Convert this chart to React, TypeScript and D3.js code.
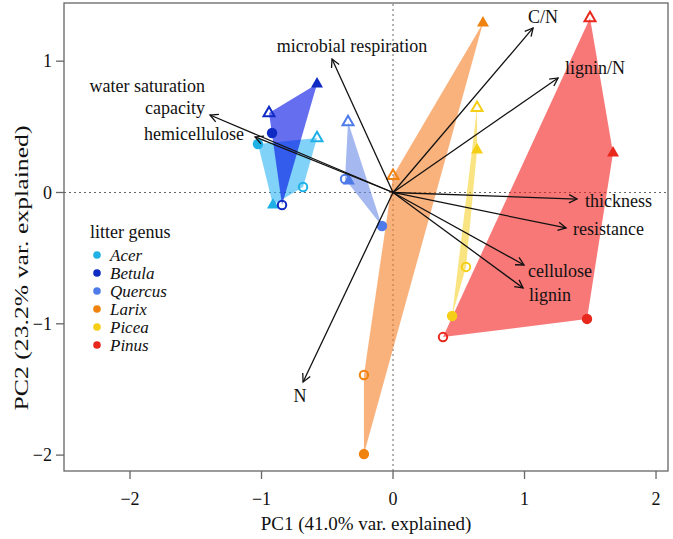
import React from 'react';
import * as d3 from 'd3';

// PCA scores, one entry per sample in the order:
// filled circle, open circle, filled triangle, open triangle
const genera = ['Acer', 'Betula', 'Quercus', 'Larix', 'Picea', 'Pinus'];
const acerPC1 = [-1.027, -0.684, -0.913, -0.578];
const acerPC2 = [0.369, 0.042, -0.095, 0.415];
const betulaPC1 = [-0.92, -0.844, -0.578, -0.943];
const betulaPC2 = [0.453, -0.095, 0.826, 0.605];
const quercusPC1 = [-0.084, -0.365, -0.335, -0.342];
const quercusPC2 = [-0.255, 0.103, 0.088, 0.537];
const larixPC1 = [-0.221, -0.221, 0.684, 0.0];
const larixPC2 = [-1.992, -1.39, 1.291, 0.126];
const piceaPC1 = [0.449, 0.555, 0.639, 0.639];
const piceaPC2 = [-0.941, -0.567, 0.324, 0.644];
const pinusPC1 = [1.475, 0.38, 1.673, 1.498];
const pinusPC2 = [-0.963, -1.101, 0.301, 1.329];
const markers = ['filledCircle', 'openCircle', 'filledTriangle', 'openTriangle'];

// variable loadings (arrow tips)
const variables = [
  'microbial respiration',
  'water saturation\ncapacity',
  'hemicellulose',
  'N',
  'C/N',
  'lignin/N',
  'thickness',
  'resistance',
  'cellulose',
  'lignin',
];
const loadPC1 = [-0.464, -1.392, -1.049, -0.684, 1.065, 1.255, 1.399, 1.316, 0.996, 0.989];
const loadPC2 = [1.017, 0.59, 0.423, -1.443, 1.253, 0.872, -0.05, -0.27, -0.552, -0.727];

const xTicks = [-2, -1, 0, 1, 2];
const yTicks = [-2, -1, 0, 1];

// styling
const pointColors = ['#1fb1e6', '#0f2bc4', '#4f7bea', '#f0820f', '#f5cf17', '#e8281c'];
const hullColors = ['#2bb4f3', '#000de6', '#698ae6', '#f77f26', '#f7d22f', '#f31e1e'];
// label placement relative to arrow tip: [dx, dy, anchor]
const labelPlace: [number, number, string][] = [
  [20, -7, 'middle'],
  [-5, -23, 'end'],
  [-11, 3, 'end'],
  [-3, 20, 'middle'],
  [10, -5, 'middle'],
  [7, -4, 'start'],
  [8, 8, 'start'],
  [7, 7, 'start'],
  [4, 12, 'start'],
  [6, 13, 'start'],
];

const W = 673;
const H = 539;
const FONT = '"Liberation Serif", "Times New Roman", serif';

export default function App() {
  const x = d3.scaleLinear().domain([-2.502, 2.091]).range([64, 668]);
  const y = d3.scaleLinear().domain([-2.121, 1.443]).range([471, 3]);
  const [x0, x1] = x.range();
  const [y0, y1] = y.range();

  const pc1 = [acerPC1, betulaPC1, quercusPC1, larixPC1, piceaPC1, pinusPC1];
  const pc2 = [acerPC2, betulaPC2, quercusPC2, larixPC2, piceaPC2, pinusPC2];
  const groups = genera.map((g, gi) => ({
    genus: g,
    pts: pc1[gi].map((v, i) => ({ px: x(v), py: y(pc2[gi][i]), kind: markers[i] })),
  }));

  const tri = d3.symbol().type(d3.symbolTriangle);
  const fmt = d3.format('d');

  const arrowHead = (sx: number, sy: number, tx: number, ty: number) => {
    const a = Math.atan2(ty - sy, tx - sx);
    const len = 9;
    const sp = 0.48;
    const p1 = [tx - len * Math.cos(a - sp), ty - len * Math.sin(a - sp)];
    const p2 = [tx - len * Math.cos(a + sp), ty - len * Math.sin(a + sp)];
    return `M${p1[0]},${p1[1]}L${tx},${ty}L${p2[0]},${p2[1]}`;
  };

  return (
    <svg width={W} height={H} style={{ position: 'absolute', left: 0, top: 0, fontFamily: FONT }}>
      <rect width={W} height={H} fill="#fff" />

      {/* zero lines */}
      <line x1={x0} x2={x1} y1={y(0)} y2={y(0)} stroke="#666" strokeDasharray="2,3" />
      <line x1={x(0)} x2={x(0)} y1={y0} y2={y1} stroke="#666" strokeDasharray="2,3" />

      {/* convex hulls */}
      {groups.map((g, gi) => {
        const hull = d3.polygonHull(g.pts.map(p => [p.px, p.py] as [number, number]));
        return (
          <path key={g.genus} d={`M${hull!.join('L')}Z`} fill={hullColors[gi]} fillOpacity={0.6} />
        );
      })}

      {/* sample points */}
      {groups.map((g, gi) =>
        g.pts.map((p, i) => {
          const c = pointColors[gi];
          if (p.kind === 'filledCircle')
            return <circle key={`${gi}-${i}`} cx={p.px} cy={p.py} r={5.2} fill={c} />;
          if (p.kind === 'openCircle')
            return <circle key={`${gi}-${i}`} cx={p.px} cy={p.py} r={4.2} fill="none" stroke={c} strokeWidth={2} />;
          if (p.kind === 'filledTriangle')
            return <path key={`${gi}-${i}`} d={tri.size(62)()!} transform={`translate(${p.px},${p.py})`} fill={c} />;
          return (
            <path key={`${gi}-${i}`} d={tri.size(52)()!} transform={`translate(${p.px},${p.py})`}
              fill="none" stroke={c} strokeWidth={2} />
          );
        })
      )}

      {/* loading arrows */}
      {variables.map((v, i) => {
        const sx = x(0), sy = y(0);
        const tx = x(loadPC1[i]), ty = y(loadPC2[i]);
        const [dx, dy, anchor] = labelPlace[i];
        const lines = v.split('\n');
        return (
          <g key={v}>
            <line x1={sx} y1={sy} x2={tx} y2={ty} stroke="#111" strokeWidth={1.3} />
            <path d={arrowHead(sx, sy, tx, ty)} fill="none" stroke="#111" strokeWidth={1.3} />
            <text x={tx + dx} y={ty + dy} textAnchor={anchor} fontSize={18} fill="#111">
              {lines.map((l, li) => (
                <tspan key={li} x={tx + dx} dy={li === 0 ? 0 : 22}>{l}</tspan>
              ))}
            </text>
          </g>
        );
      })}

      {/* frame */}
      <rect x={x0} y={y1} width={x1 - x0} height={y0 - y1} fill="none" stroke="#666" strokeWidth={1.3} />

      {/* x axis */}
      {xTicks.map(t => (
        <g key={`x${t}`}>
          <line x1={x(t)} x2={x(t)} y1={y0} y2={y0 + 8} stroke="#666" strokeWidth={1.3} />
          <text x={x(t)} y={505} textAnchor="middle" fontSize={18} fill="#111">{fmt(t)}</text>
        </g>
      ))}
      <text x={(x0 + x1) / 2} y={530} textAnchor="middle" fontSize={19} fill="#111">
        PC1 (41.0% var. explained)
      </text>

      {/* y axis */}
      {yTicks.map(t => (
        <g key={`y${t}`}>
          <line x1={x0 - 8} x2={x0} y1={y(t)} y2={y(t)} stroke="#666" strokeWidth={1.3} />
          <text x={52} y={y(t)} dy="0.35em" textAnchor="end" fontSize={18} fill="#111">{fmt(t)}</text>
        </g>
      ))}
      <text transform="translate(28,268) rotate(-90)" textAnchor="middle" fontSize={19}
        textLength={285} lengthAdjust="spacingAndGlyphs" fill="#111">
        PC2 (23.2% var. explained)
      </text>

      {/* legend */}
      <text x={90} y={238} fontSize={18} fill="#111">litter genus</text>
      {genera.map((g, i) => (
        <g key={g}>
          <circle cx={97} cy={255 + i * 18} r={3.8} fill={pointColors[i]} />
          <text x={110} y={255 + i * 18} dy="0.33em" fontSize={17} fontStyle="italic" fill="#111">{g}</text>
        </g>
      ))}
    </svg>
  );
}
